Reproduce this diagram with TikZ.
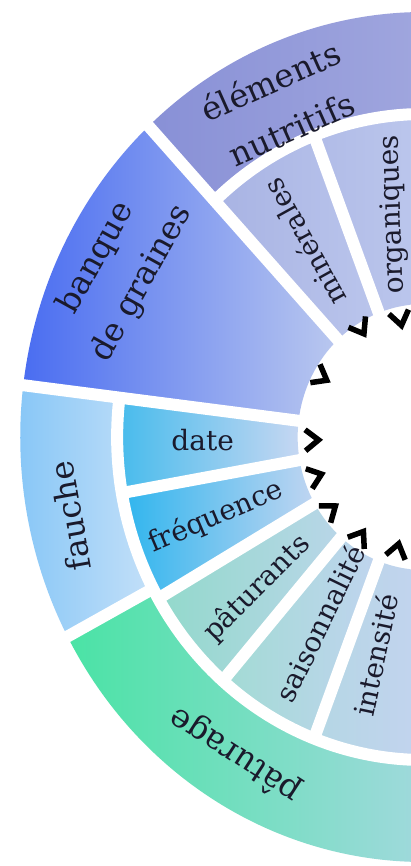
\documentclass[tikz,border=0pt]{standalone}
\usepackage{fontspec}
\setmainfont{DejaVu Serif}
\definecolor{inktext}{HTML}{1A1A2C}
\definecolor{elemL}{HTML}{8890D6}
\definecolor{elemR}{HTML}{A3A9DF}
\definecolor{minL}{HTML}{A8B3E3}
\definecolor{minR}{HTML}{BAC5EC}
\definecolor{orgL}{HTML}{B0BBE7}
\definecolor{orgR}{HTML}{BFCAEE}
\definecolor{banqL}{HTML}{4A6DF1}
\definecolor{banqR}{HTML}{BAC8EF}
\definecolor{fauL}{HTML}{86C6F7}
\definecolor{fauR}{HTML}{C4E0F8}
\definecolor{dateL}{HTML}{45BBEC}
\definecolor{dateR}{HTML}{C6D7F2}
\definecolor{freqL}{HTML}{2EB5EE}
\definecolor{freqR}{HTML}{C0D5F1}
\definecolor{patL}{HTML}{4AE3A5}
\definecolor{patR}{HTML}{A9D8E2}
\definecolor{ptsL}{HTML}{92D9CB}
\definecolor{ptsR}{HTML}{B9D6E8}
\definecolor{saiL}{HTML}{A2DBD4}
\definecolor{saiR}{HTML}{C0D4EF}
\definecolor{intL}{HTML}{B4D7E4}
\definecolor{intR}{HTML}{C7D2F2}
\tikzset{
    outerlabel/.style={text=inktext, font=\fontsize{32.5}{52}\selectfont, align=center, inner sep=0pt},
    innerlabel/.style={text=inktext, font=\fontsize{28}{34}\selectfont, inner sep=0pt},
    sepline/.style={white, line width=12pt},
    chevron/.style={black, line width=5.5pt},
}

\begin{document}
\begin{tikzpicture}[x=1pt,y=1pt]
    \useasboundingbox (-424,-429) rectangle (-13,437);
    \clip (-424,-429) rectangle (-13,437);
    \fill[white] (-424,-429) rectangle (-13,437);
    \begin{scope}[xscale=0.95]
    % outer ring
    \shade[left color=elemL, right color=elemR] (85:323) arc[start angle=85, end angle=133, radius=323] -- (133:425) arc[start angle=133, end angle=85, radius=425] -- cycle;
    \shade[left color=banqL, right color=banqR] (133:133) arc[start angle=133, end angle=173, radius=133] -- (173:425) arc[start angle=173, end angle=133, radius=425] -- cycle;
    \shade[left color=fauL, right color=fauR] (173:323) arc[start angle=173, end angle=208, radius=323] -- (208:425) arc[start angle=208, end angle=173, radius=425] -- cycle;
    \shade[left color=patL, right color=patR] (208:323) arc[start angle=208, end angle=275, radius=323] -- (275:425) arc[start angle=275, end angle=208, radius=425] -- cycle;
    % inner ring
    \shade[left color=orgL, right color=orgR] (85:133) arc[start angle=85, end angle=111, radius=133] -- (111:323) arc[start angle=111, end angle=85, radius=323] -- cycle;
    \shade[left color=minL, right color=minR] (111:133) arc[start angle=111, end angle=133, radius=133] -- (133:323) arc[start angle=133, end angle=111, radius=323] -- cycle;
    \shade[left color=dateL, right color=dateR] (173:133) arc[start angle=173, end angle=190, radius=133] -- (190:323) arc[start angle=190, end angle=173, radius=323] -- cycle;
    \shade[left color=freqL, right color=freqR] (190:133) arc[start angle=190, end angle=210, radius=133] -- (210:323) arc[start angle=210, end angle=190, radius=323] -- cycle;
    \shade[left color=ptsL, right color=ptsR] (210:133) arc[start angle=210, end angle=229, radius=133] -- (229:323) arc[start angle=229, end angle=210, radius=323] -- cycle;
    \shade[left color=saiL, right color=saiR] (229:133) arc[start angle=229, end angle=249, radius=133] -- (249:323) arc[start angle=249, end angle=229, radius=323] -- cycle;
    \shade[left color=intL, right color=intR] (249:133) arc[start angle=249, end angle=275, radius=133] -- (275:323) arc[start angle=275, end angle=249, radius=323] -- cycle;
    % gaps
    \draw[sepline] (133:120) -- (133:445);
    \draw[sepline] (173:120) -- (173:445);
    \draw[sepline] (208:323) -- (208:445);
    \draw[sepline] (210:120) -- (210:323);
    \draw[sepline] (111:120) -- (111:323);
    \draw[sepline] (190:120) -- (190:323);
    \draw[sepline] (229:120) -- (229:323);
    \draw[sepline] (249:120) -- (249:323);
    \draw[sepline] (133:323) arc[start angle=133, end angle=80, radius=323];
    \draw[sepline] (173:323) arc[start angle=173, end angle=280, radius=323];
    % arrow tips
    \foreach \a/\r in {102/121, 121.5/128, 151/124, 181.5/118, 199/121, 216.5/123, 236/121, 256/117}
        \draw[chevron, rotate=\a] (\r+7,10.5) -- (\r-7,0) -- (\r+7,-10.5);
    % labels
    \node (elements) [outerlabel, rotate=24] at (114.4:365) {éléments\\nutritifs};
    \node (banque) [outerlabel, rotate=61] at (152.6:361) {banque\\de graines};
    \node (fauche) [outerlabel, rotate=100] at (192:381) {fauche};
    \node (paturage) [outerlabel, rotate=147] at (238:375) {pâturage};
    \node (minerales) [innerlabel, rotate=119] at (123:232) {minérales};
    \node (organiques) [innerlabel, rotate=92] at (98.3:225) {organiques};
    \node (date) [innerlabel] at (180.7:233) {date};
    \node (frequence) [innerlabel, rotate=23] at (200:233) {fréquence};
    \node (paturants) [innerlabel, rotate=45] at (220.7:232) {pâturants};
    \node (saison) [innerlabel, rotate=64] at (239.5:216) {saisonnalité};
    \node (intensite) [innerlabel, rotate=78] at (256.8:224) {intensité};
    \end{scope}
\end{tikzpicture}
\end{document}
